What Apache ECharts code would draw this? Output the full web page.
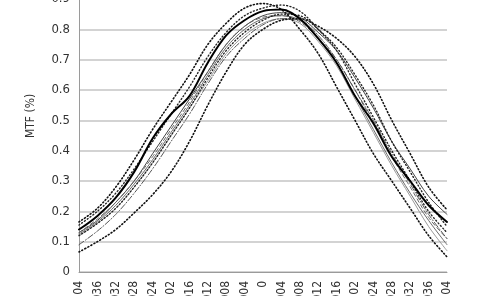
<!DOCTYPE html>
<html><head><meta charset="utf-8">
<script src="https://cdn.jsdelivr.net/npm/echarts@6/dist/echarts.min.js"></script>
<style>html,body{margin:0;padding:0;background:#fff}#c{width:480px;height:296px}</style>
</head><body><div id="c"></div>
<script>
var categories = ["-0.04","-0.036","-0.032","-0.028","-0.024","-0.02","-0.016","-0.012","-0.008","-0.004","0","0.004","0.008","0.012","0.016","0.02","0.024","0.028","0.032","0.036","0.04"];
var yTicks = [0,0.1,0.2,0.3,0.4,0.5,0.6,0.7,0.8,0.9];
var mtfMain   = [0.14,0.185,0.245,0.33,0.44,0.52,0.58,0.69,0.78,0.83,0.86,0.865,0.835,0.77,0.69,0.58,0.49,0.38,0.30,0.22,0.165];
var dottedA   = [0.165,0.21,0.28,0.37,0.47,0.56,0.65,0.75,0.82,0.87,0.885,0.865,0.80,0.72,0.61,0.50,0.39,0.30,0.21,0.12,0.05];
var dottedB   = [0.066,0.10,0.14,0.195,0.255,0.33,0.43,0.55,0.66,0.75,0.80,0.83,0.835,0.81,0.77,0.71,0.62,0.50,0.39,0.28,0.205];
var dashDot   = [0.09,0.135,0.19,0.26,0.34,0.43,0.52,0.62,0.71,0.77,0.815,0.835,0.83,0.78,0.70,0.60,0.50,0.39,0.29,0.19,0.11];
var dottedC   = [0.155,0.20,0.26,0.34,0.43,0.52,0.61,0.71,0.79,0.845,0.87,0.88,0.86,0.80,0.73,0.62,0.51,0.40,0.30,0.20,0.13];
var dottedD   = [0.12,0.16,0.21,0.28,0.36,0.45,0.54,0.64,0.73,0.79,0.83,0.85,0.845,0.80,0.74,0.65,0.55,0.43,0.33,0.23,0.15];
var thinDark  = [0.13,0.17,0.23,0.30,0.39,0.48,0.57,0.66,0.75,0.81,0.845,0.855,0.84,0.79,0.73,0.64,0.54,0.43,0.34,0.25,0.19];
var thinMid   = [0.125,0.165,0.22,0.29,0.37,0.46,0.55,0.65,0.74,0.80,0.835,0.845,0.83,0.77,0.69,0.58,0.47,0.36,0.26,0.17,0.09];
var thinLight = [0.12,0.16,0.21,0.28,0.36,0.45,0.54,0.63,0.72,0.78,0.82,0.835,0.82,0.76,0.68,0.57,0.46,0.35,0.25,0.15,0.07];
var dashGray  = [0.13,0.175,0.23,0.30,0.38,0.47,0.56,0.66,0.75,0.81,0.84,0.845,0.825,0.77,0.70,0.60,0.49,0.38,0.28,0.18,0.11];

var FONT = "'Liberation Sans Narrow','Arial Narrow','DejaVu Sans Condensed',sans-serif";
function line(name, data, color, width, type, z) {
  return {name:name, type:'line', data:data, smooth:0.35, symbol:'none', z:z||2,
    lineStyle:{color:color, width:width, type:type, cap:'round'}};
}
var chart = echarts.init(document.getElementById('c'), null, {renderer:'canvas'});
chart.setOption({
  animation:false,
  backgroundColor:'#fff',
  grid:{left:79, right:33, top:-1, bottom:24, containLabel:false, outerBoundsMode:'none'},
  xAxis:{type:'category', data:categories, boundaryGap:false,
    axisLine:{show:true, lineStyle:{color:'#9a9a9a', width:1}},
    axisTick:{show:false},
    axisLabel:{rotate:90, margin:9, color:'#333', fontSize:12, fontFamily:FONT, interval:0},
    splitLine:{show:false}},
  yAxis:{type:'value', min:yTicks[0], max:yTicks[yTicks.length-1], interval:0.1,
    axisLine:{show:true, lineStyle:{color:'#9a9a9a', width:1}},
    axisTick:{show:false},
    axisLabel:{margin:9, color:'#333', fontSize:13, fontFamily:FONT,
      formatter:function(v){return String(Math.round(v*10)/10);}},
    splitLine:{show:true, lineStyle:{color:'#c4c4c4', width:1.5}}},
  graphic:[{type:'text', x:31, y:116, rotation:Math.PI/2,
    style:{text:'MTF (%)', fill:'#333', font:'12px '+FONT, textAlign:'center', textVerticalAlign:'middle'}}],
  series:[
    line('thinLight', thinLight, '#9a9a9a', 1, 'solid'),
    line('thinMid', thinMid, '#6a6a6a', 1, 'solid'),
    line('thinDark', thinDark, '#444', 1, 'solid'),
    line('dashGray', dashGray, '#666', 1, [4,3]),
    line('dashDot', dashDot, '#555', 1, [6,2,1,2]),
    line('dottedA', dottedA, '#111', 1.6, [1,2.4]),
    line('dottedB', dottedB, '#111', 1.6, [1,2.4]),
    line('dottedC', dottedC, '#222', 1.4, [1,2.4]),
    line('dottedD', dottedD, '#222', 1.4, [1,2.4]),
    line('mtfMain', mtfMain, '#000', 2, 'solid', 5)
  ]
});
</script></body></html>
